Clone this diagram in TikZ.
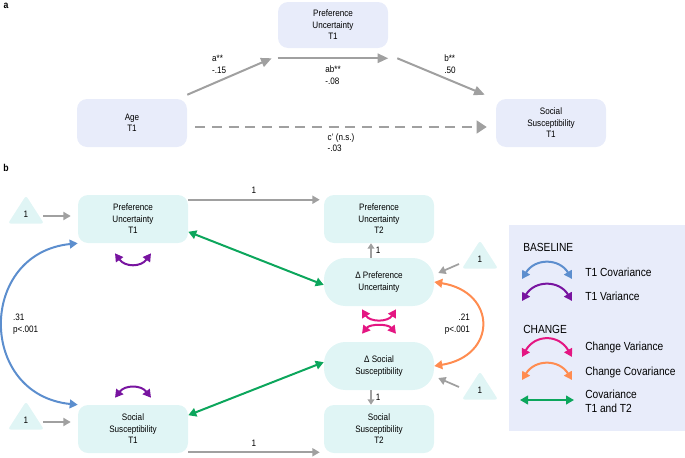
\documentclass[tikz,border=0pt]{standalone}
\usepackage{fontspec}
\setmainfont{Liberation Sans}[FakeStretch=0.87]
\usetikzlibrary{positioning, arrows.meta, shapes.geometric, calc}

\definecolor{boxA}{RGB}{232,236,250}
\definecolor{boxB}{RGB}{224,245,245}
\definecolor{arrgray}{RGB}{160,160,160}
\definecolor{covblue}{RGB}{92,142,206}
\definecolor{varpurple}{RGB}{120,20,160}
\definecolor{chgpink}{RGB}{228,22,130}
\definecolor{chgorange}{RGB}{255,140,80}
\definecolor{tgreen}{RGB}{12,166,92}

\begin{document}
\begin{tikzpicture}[x=0.75pt, y=-0.75pt,
    box/.style={rounded corners=7.5pt, fill=#1, align=center, inner sep=2pt,
                font=\fontsize{7}{8.6}\selectfont,
                minimum width=82.5pt, minimum height=36pt},
    box/.default={boxB},
    dbox/.style={box, rounded corners=16pt},
    tri/.style={isosceles triangle, isosceles triangle stretches,
                shape border rotate=90, fill=boxB, rounded corners=2pt,
                minimum width=27pt, minimum height=21pt, inner sep=0pt,
                font=\fontsize{7}{8.6}\selectfont},
    garrow/.style={-{Triangle[length=8pt,width=7pt]}, line width=1.5pt, draw=arrgray},
    sarrow/.style={-{Triangle[length=5.5pt,width=6pt]}, line width=1.3pt, draw=arrgray},
    both/.style={{Triangle[length=6pt,width=6.5pt]}-{Triangle[length=6pt,width=6.5pt]},
                 line width=1.5pt, draw=#1},
    lab/.style={font=\fontsize{7}{8.6}\selectfont, align=left, inner sep=1pt},
    leg/.style={font=\fontsize{8.8}{10.2}\selectfont, align=left, anchor=west, inner sep=0pt},
    title/.style={font=\fontsize{7.5}{9}\selectfont\bfseries, inner sep=0pt}
]
\useasboundingbox (0,0) rectangle (685,457);

% ---- Panel a: mediation ----
\node[title] (pa) at (6,6) {a};
\node[box=boxA, minimum height=34.5pt] (pua) at (333,25) {Preference\\Uncertainty\\T1};
\node[box=boxA] (age) at (132,123) {Age\\T1};
\node[box=boxA] (sst) at (551,123) {Social\\Susceptibility\\T1};

\draw[garrow] ([yshift=3pt]age.north east) -- node[lab, above left=1pt] {a**\\-.15}
      ([xshift=-4.5pt,yshift=-7.5pt]pua.south west);
\draw[garrow] ([yshift=-7.5pt]pua.south west) -- node[lab, below=4pt] {ab**\\-.08}
      ([yshift=-7.5pt]pua.south east);
\draw[garrow] ([xshift=6.75pt,yshift=-7.5pt]pua.south east) -- node[lab, above right=1pt] {b**\\.50}
      ([xshift=-8.25pt,yshift=3pt]sst.north west);
\draw[garrow, dash pattern=on 7.5pt off 5pt, -{Triangle[length=7.5pt,width=9.5pt]}]
      ([xshift=6pt,yshift=-3pt]age.east) -- node[lab, below=3pt] {c' (n.s.)\\-.03}
      ([xshift=-6.75pt,yshift=-3pt]sst.west);

% ---- Panel b: latent change model ----
\node[title] (pb) at (6,168) {b};
\node[box] (pu1) at (133,219) {Preference\\Uncertainty\\T1};
\node[box] (ss1) at (133,429) {Social\\Susceptibility\\T1};
\node[box] (pu2) at (379,219) {Preference\\Uncertainty\\T2};
\node[dbox] (dpu) at (379,282) {Δ Preference\\Uncertainty};
\node[dbox] (dss) at (379,366) {Δ Social\\Susceptibility};
\node[box] (ss2) at (379,429) {Social\\Susceptibility\\T2};

% intercepts
\node[tri] (tri1) at (26,214) {1};
\node[tri] (tri2) at (26,420) {1};
\node[tri] (tri3) at (480,259) {1};
\node[tri] (tri4) at (480,390) {1};
\draw[sarrow] ($(tri1.east)+(5,2)$) -- ($(tri1.east -| pu1.west)+(-7,2)$);
\draw[sarrow] ($(tri2.east)+(5,2)$) -- ($(tri2.east -| ss1.west)+(-7,2)$);
\draw[sarrow] ($(tri3.center)+(-21,5)$) -- ($(dpu.east)+(4,-9)$);
\draw[sarrow] ($(tri4.center)+(-21,-3)$) -- ($(dss.east)+(4,12)$);

% fixed paths
\draw[sarrow] ([yshift=-3.75pt]pu1.north east) -- node[lab, above=3pt] {1}
      ([xshift=-3pt,yshift=-3.75pt]pu2.north west);
\draw[sarrow] ([yshift=0.75pt]ss1.south east) -- node[lab, above=3pt] {1}
      ([xshift=-3pt,yshift=0.75pt]ss2.south west);
\draw[sarrow, -{Triangle[length=4pt,width=5pt]}] ([xshift=-6pt]dpu.north) -- node[lab, right=2pt] {1}
      ([xshift=-6pt]pu2.south);
\draw[sarrow, -{Triangle[length=4pt,width=5pt]}] ([xshift=-6pt]dss.south) -- node[lab, right=2pt] {1}
      ([xshift=-6pt]ss2.north);

% covariances
\draw[both=covblue] (pu1.south west) .. controls +(-100,10) and +(-100,-10) .. (ss1.north west)
      node[lab, midway, right=6pt] {.31\\p<.001};
\draw[both=chgorange] (dpu.east) .. controls +(63,10) and +(63,-10) .. (dss.east)
      node[lab, midway, left=7pt, align=right] {.21\\p<.001};
\draw[both=tgreen] (pu1.-13) -- (dpu.183);
\draw[both=tgreen] (ss1.14) -- (dss.176);

% variances
\draw[both=varpurple] ([xshift=-13.5pt,yshift=-7.5pt]pu1.south) .. controls +(10,14) and +(-10,14)
      .. ([xshift=13.5pt,yshift=-7.5pt]pu1.south);
\draw[both=varpurple] ([xshift=-13.5pt,yshift=5.25pt]ss1.north) .. controls +(10,-13) and +(-10,-13)
      .. ([xshift=13.5pt,yshift=5.25pt]ss1.north);
\draw[both=chgpink] ([xshift=-12.75pt,yshift=-2.25pt]dpu.south) .. controls +(8,13) and +(-8,13)
      .. ([xshift=12.75pt,yshift=-2.25pt]dpu.south);
\draw[both=chgpink] ([xshift=-12.75pt,yshift=6pt]dss.north) .. controls +(8,-10) and +(-8,-10)
      .. ([xshift=12.75pt,yshift=6pt]dss.north);

% ---- Legend ----
\fill[boxA] (509,225) rectangle (685,431);
\node[leg] (lbase) at (523,247) {BASELINE};
\node[leg] (lcov)  at (585,272) {T1 Covariance};
\node[leg] (lvar)  at (585,296) {T1 Variance};
\node[leg] (lchg)  at (523,329) {CHANGE};
\node[leg] (lchv)  at (585,347) {Change Variance};
\node[leg] (lchc)  at (585,372) {Change Covariance};
\node[leg] (lt12)  at (585,401) {Covariance\\T1 and T2};
\draw[both=covblue]   (522,279) .. controls (535,258) and (559,258) .. (572,279);
\draw[both=varpurple] (522,301) .. controls (535,280) and (559,280) .. (572,301);
\draw[both=chgpink]   (522,357) .. controls (535,334) and (559,334) .. (572,357);
\draw[both=chgorange] (522,380) .. controls (535,359) and (559,359) .. (572,380);
\draw[both=tgreen]    (520,400) -- (574,400);

\end{tikzpicture}
\end{document}
